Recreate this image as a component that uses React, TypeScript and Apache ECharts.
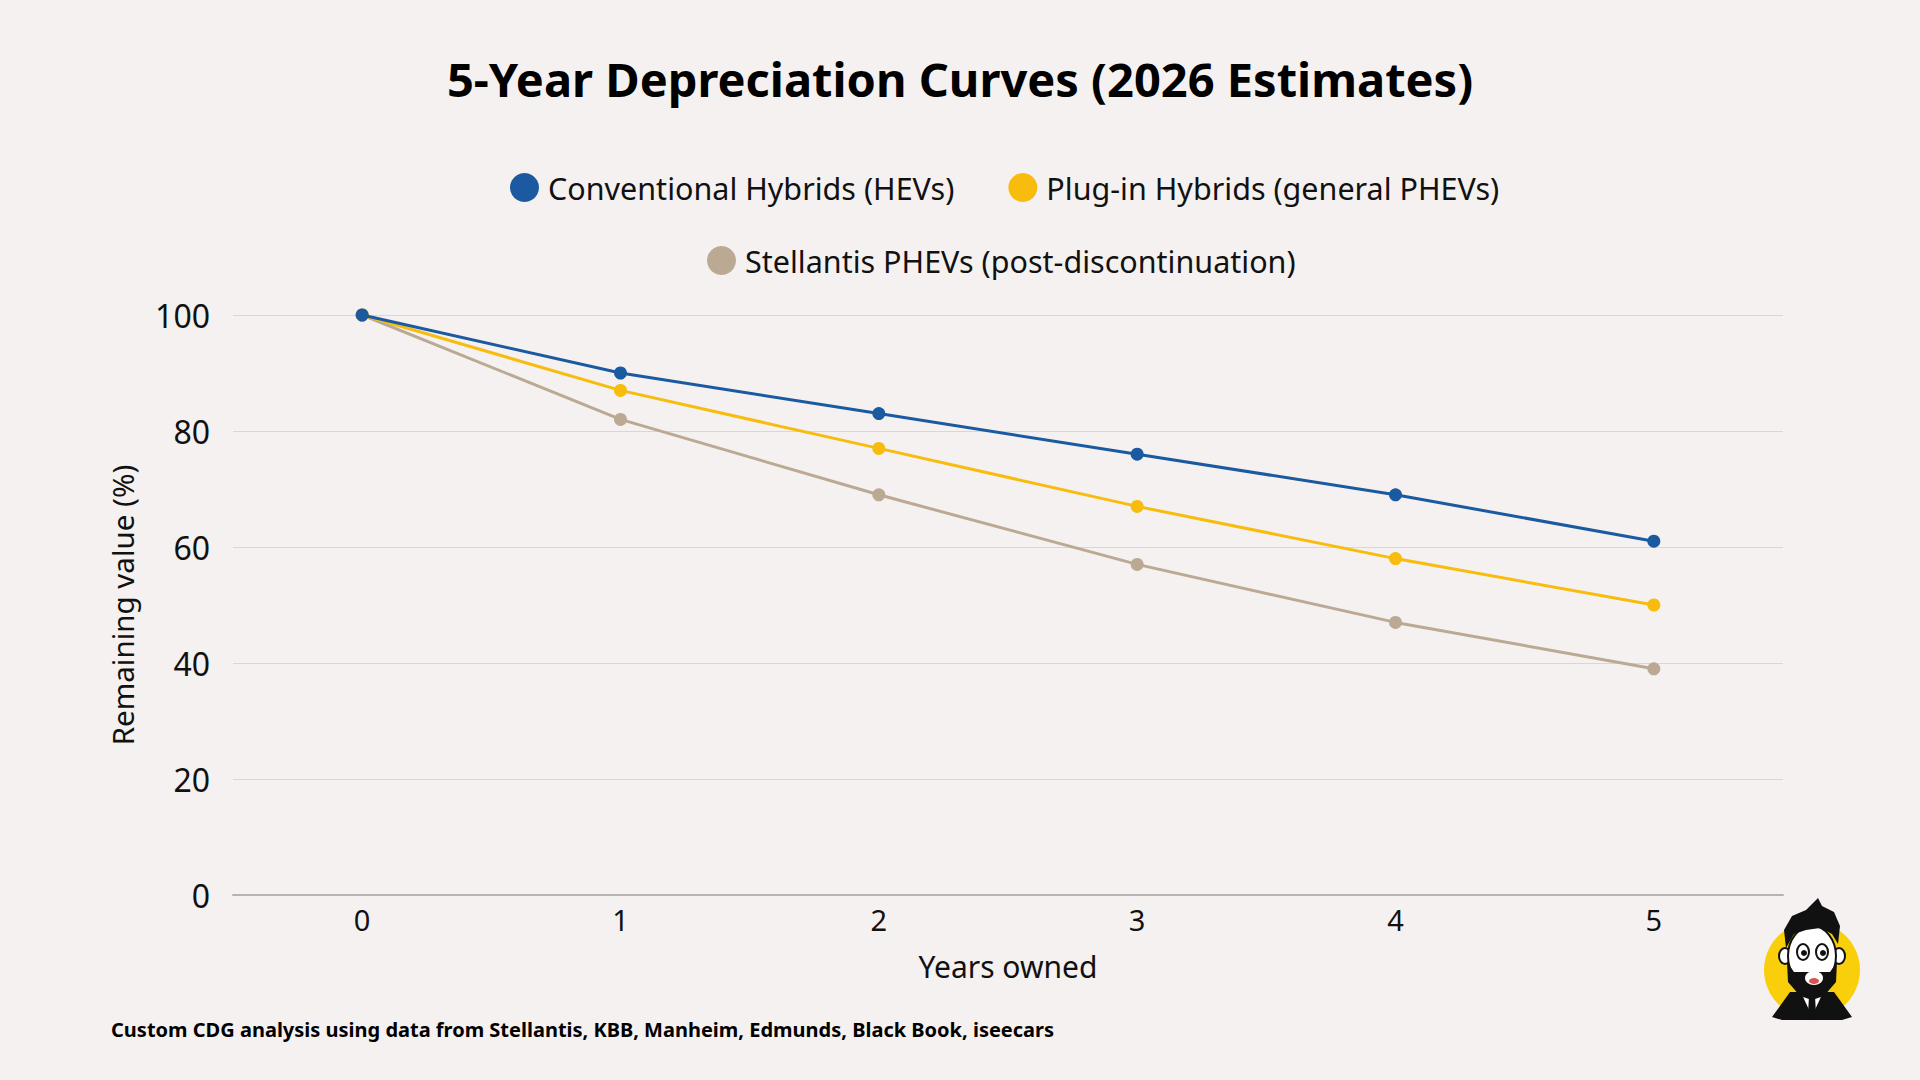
import React, { useEffect, useRef } from "react";
import * as echarts from "echarts";

const years = ["0", "1", "2", "3", "4", "5"];
const hevValues = [100, 90, 83, 76, 69, 61];
const phevValues = [100, 87, 77, 67, 58, 50];
const stellantisValues = [100, 82, 69, 57, 47, 39];
const seriesNames = [
  "Conventional Hybrids (HEVs)",
  "Plug-in Hybrids (general PHEVs)",
  "Stellantis PHEVs (post-discontinuation)",
];
const seriesColors = ["#1b5aa0", "#f7bc0d", "#bca993"];
const titleText = "5-Year Depreciation Curves (2026 Estimates)";
const sourceText =
  "Custom CDG analysis using data from Stellantis, KBB, Manheim, Edmunds, Black Book, iseecars";
const xAxisName = "Years owned";
const yAxisName = "Remaining value (%)";

const FONT = "'Noto Sans', 'Open Sans', sans-serif";

function logo() {
  return {
    type: "group",
    x: 1812,
    y: 970,
    children: [
      { type: "circle", shape: { cx: 0, cy: 0, r: 48 }, style: { fill: "#f8cf0a" } },
      {
        type: "polygon",
        shape: { points: [[-40, 47], [-22, 22], [22, 22], [40, 47], [30, 50], [-30, 50]] },
        style: { fill: "#111" },
      },
      { type: "polygon", shape: { points: [[-12, 22], [12, 22], [0, 48]] }, style: { fill: "#fff", stroke: "#111", lineWidth: 1.5 } },
      { type: "polygon", shape: { points: [[-3, 26], [3, 26], [4, 44], [0, 48], [-4, 44]] }, style: { fill: "#111" } },
      { type: "ellipse", shape: { cx: -27, cy: -14, rx: 6, ry: 8 }, style: { fill: "#fff", stroke: "#111", lineWidth: 2 } },
      { type: "ellipse", shape: { cx: 27, cy: -14, rx: 6, ry: 8 }, style: { fill: "#fff", stroke: "#111", lineWidth: 2 } },
      { type: "ellipse", shape: { cx: 0, cy: -14, rx: 24, ry: 30 }, style: { fill: "#fff", stroke: "#111", lineWidth: 2 } },
      {
        type: "polygon",
        shape: { points: [[-25, -8], [-18, 2], [18, 2], [25, -8], [24, 12], [12, 26], [0, 30], [-12, 26], [-24, 12]] },
        style: { fill: "#111" },
      },
      { type: "ellipse", shape: { cx: 2, cy: 8, rx: 9, ry: 7 }, style: { fill: "#fff" } },
      { type: "ellipse", shape: { cx: 2, cy: 11, rx: 5, ry: 3 }, style: { fill: "#d9534f" } },
      { type: "ellipse", shape: { cx: -9, cy: -18, rx: 6, ry: 8 }, style: { fill: "#fff", stroke: "#111", lineWidth: 2 } },
      { type: "ellipse", shape: { cx: 10, cy: -18, rx: 6, ry: 8 }, style: { fill: "#fff", stroke: "#111", lineWidth: 2 } },
      { type: "circle", shape: { cx: -8, cy: -17, r: 3 }, style: { fill: "#111" } },
      { type: "circle", shape: { cx: 11, cy: -17, r: 3 }, style: { fill: "#111" } },
      {
        type: "polygon",
        shape: {
          points: [[-26, -22], [-28, -40], [-20, -54], [-6, -60], [6, -72], [10, -64], [22, -58], [28, -44], [26, -26], [20, -36], [8, -42], [-6, -40], [-18, -36]],
        },
        style: { fill: "#111" },
      },
    ],
  };
}

export default function App() {
  const ref = useRef<HTMLDivElement>(null);

  useEffect(() => {
    document.body.style.margin = "0";
    if (!ref.current) return;
    const chart = echarts.init(ref.current, undefined, { renderer: "svg" });
    const dataSets = [hevValues, phevValues, stellantisValues];

    chart.setOption({
      animation: false,
      backgroundColor: "#f5f1f0",
      textStyle: { fontFamily: FONT },
      title: {
        text: titleText,
        left: "center",
        top: 50,
        textStyle: { fontFamily: FONT, fontSize: 47, fontWeight: "bold", color: "#000" },
      },
      legend: [
        {
          data: [seriesNames[0], seriesNames[1]],
          left: 505,
          top: 167,
          icon: "circle",
          itemWidth: 29,
          itemHeight: 29,
          itemGap: 54,
          textStyle: { fontFamily: FONT, fontSize: 30.5, color: "#111", padding: [0, 0, 0, 4] },
        },
        {
          data: [seriesNames[2]],
          left: 702,
          top: 240,
          icon: "circle",
          itemWidth: 29,
          itemHeight: 29,
          textStyle: { fontFamily: FONT, fontSize: 30.5, color: "#111", padding: [0, 0, 0, 4] },
        },
      ],
      grid: { left: 233, right: 137, top: 315, bottom: 185, containLabel: false },
      xAxis: {
        type: "category",
        data: years,
        boundaryGap: true,
        name: xAxisName,
        nameLocation: "middle",
        nameGap: 56,
        nameTextStyle: { fontFamily: FONT, fontSize: 30, color: "#111" },
        axisLine: { lineStyle: { color: "#b8b3b0", width: 2 } },
        axisTick: { show: false },
        axisLabel: { fontFamily: FONT, fontSize: 29, color: "#111", margin: 10 },
      },
      yAxis: {
        type: "value",
        min: 0,
        max: 100,
        interval: 20,
        name: yAxisName,
        nameLocation: "middle",
        nameGap: 96,
        nameTextStyle: { fontFamily: FONT, fontSize: 29.5, color: "#111" },
        axisLine: { show: false },
        axisTick: { show: false },
        axisLabel: { fontFamily: FONT, fontSize: 32, color: "#111", margin: 23 },
        splitLine: { lineStyle: { color: "#dcd6d3", width: 1 } },
      },
      series: dataSets.map((d, i) => ({
        name: seriesNames[i],
        type: "line",
        data: d,
        symbol: "circle",
        symbolSize: 13,
        color: seriesColors[i],
        lineStyle: { width: 3, color: seriesColors[i] },
        itemStyle: { color: seriesColors[i] },
        z: 10 - i,
      })),
      graphic: [
        {
          type: "text",
          left: 111,
          top: 1019,
          style: {
            text: sourceText,
            fontFamily: FONT,
            fontSize: 20,
            fontWeight: "bold",
            fill: "#000",
          },
        },
        logo(),
      ],
    });

    return () => chart.dispose();
  }, []);

  return <div ref={ref} style={{ width: 1920, height: 1080 }} />;
}
